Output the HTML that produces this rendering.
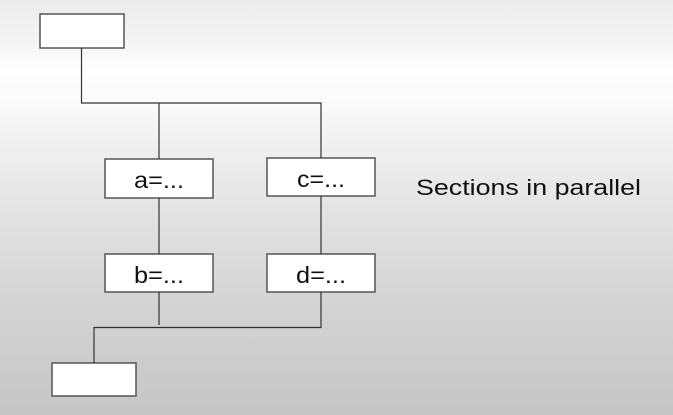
<!DOCTYPE html>
<html><head><style>
html,body{margin:0;padding:0}
body{width:673px;height:415px;overflow:hidden;background:linear-gradient(to bottom,#ebebeb 0px,#f4f4f4 40px,#fefefe 70px,#fbfbfb 100px,#efefef 150px,#e2e2e2 220px,#d4d4d4 300px,#c6c6c6 415px);font-family:"Liberation Sans",sans-serif}
</style></head><body>
<svg width="673" height="415" style="position:absolute;left:0;top:0">
<g fill="#fff" stroke="#555" stroke-width="1.5">
<rect x="40" y="14" width="84" height="34"/>
<rect x="105" y="159" width="108" height="39"/>
<rect x="267" y="158" width="108" height="38"/>
<rect x="105" y="254" width="108" height="38"/>
<rect x="267" y="254" width="108" height="38"/>
<rect x="52" y="363" width="84" height="33"/>
</g>
<g fill="none" stroke="#333" stroke-width="1.2">
<path d="M81.5 48V103H321V158"/>
<path d="M159 103V159"/>
<path d="M159 198V254"/>
<path d="M321 196V254"/>
<path d="M159 292V325"/>
<path d="M321 292V327.5H94V363"/>
</g>
<g font-family="Liberation Sans, sans-serif" font-size="23" fill="#111">
<text x="134" y="188" textLength="50" lengthAdjust="spacingAndGlyphs">a=...</text>
<text x="297" y="187" textLength="48" lengthAdjust="spacingAndGlyphs">c=...</text>
<text x="134" y="283" textLength="50" lengthAdjust="spacingAndGlyphs">b=...</text>
<text x="296" y="283" textLength="50" lengthAdjust="spacingAndGlyphs">d=...</text>
</g>
<text x="416" y="195" font-family="Liberation Sans, sans-serif" font-size="22" fill="#111" textLength="225" lengthAdjust="spacingAndGlyphs">Sections in parallel</text>
</svg>
</body></html>
